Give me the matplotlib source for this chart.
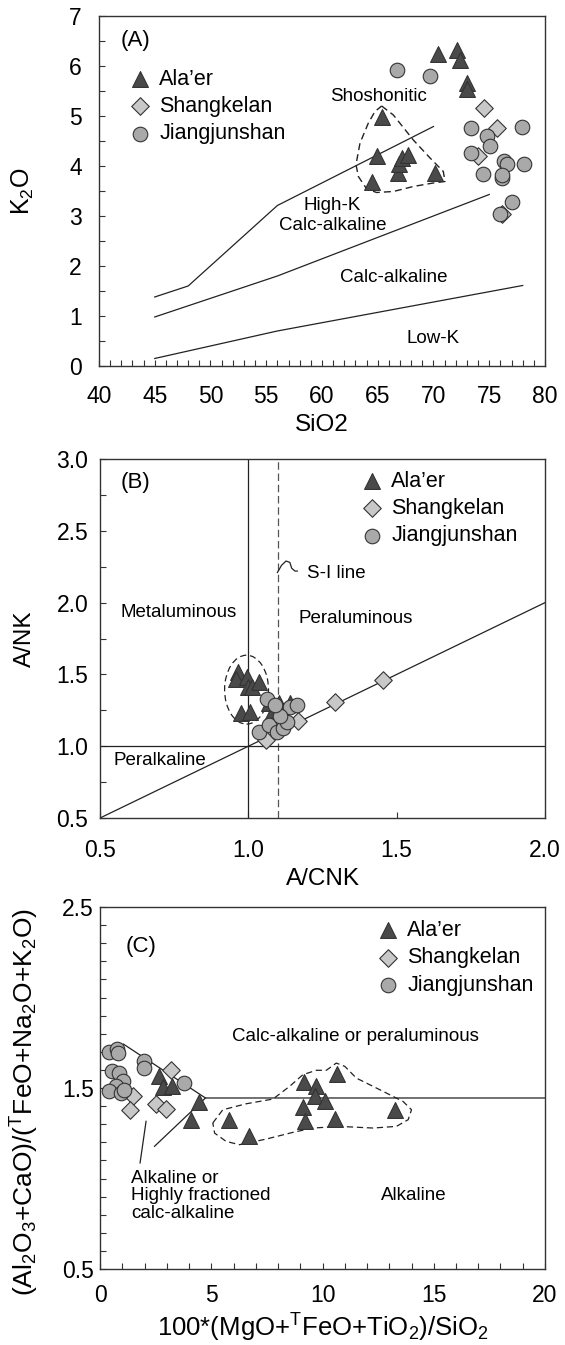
#   THREE STACKED GEOCHEMICAL DISCRIMINATION DIAGRAMS (A, B, C)
from matplotlib import pyplot as plt
from matplotlib.patches import Ellipse
from matplotlib.ticker import MultipleLocator, FixedLocator

plt.rcParams['font.family'] = ['Liberation Sans', 'DejaVu Sans']
plt.rcParams['mathtext.fontset'] = 'custom'
plt.rcParams['mathtext.rm'] = 'Liberation Sans'
plt.rcParams['mathtext.it'] = 'Liberation Sans'

#   PANEL A : SiO2 vs K2O
a_alaer_sio2 = [70.4, 72.1, 72.4, 73.0, 73.0, 65.4, 64.9, 64.5, 66.8, 66.9, 67.2, 67.7, 70.1]
a_alaer_k2o = [6.25, 6.33, 6.12, 5.66, 5.54, 4.98, 4.19, 3.67, 3.86, 4.03, 4.16, 4.22, 3.86]
a_shang_sio2 = [74.5, 75.7, 74.0, 76.1]
a_shang_k2o = [5.16, 4.76, 4.19, 3.03]
a_jiang_sio2 = [66.7, 69.7, 73.4, 74.8, 75.1, 73.4, 74.4, 76.3, 76.6, 76.1, 76.1, 77.9, 78.1, 77.0, 76.0]
a_jiang_k2o = [5.92, 5.81, 4.75, 4.60, 4.40, 4.25, 3.84, 4.10, 4.03, 3.75, 3.82, 4.77, 4.04, 3.27, 3.04]

#   SERIES BOUNDARIES
a_shosho_x = [45, 48, 56, 70]
a_shosho_y = [1.38, 1.60, 3.21, 4.79]
a_highk_x = [45, 56, 75]
a_highk_y = [0.98, 1.80, 3.43]
a_lowk_x = [45, 56, 78]
a_lowk_y = [0.15, 0.70, 1.61]

#   DASHED FIELD AROUND ALA'ER
a_env_x = [65.35, 66.4, 68.19, 69.69, 70.88, 71.03, 69.98, 68.19, 66.4, 64.9, 64.01, 63.26,
           63.05, 63.41, 64.16, 64.75, 65.35]
a_env_y = [5.2, 5.02, 4.52, 4.16, 3.89, 3.69, 3.66, 3.59, 3.49, 3.47, 3.54, 3.79,
           4.03, 4.46, 4.86, 5.09, 5.2]

#   PANEL B : A/CNK vs A/NK
b_alaer_acnk = [0.966, 0.958, 0.994, 0.998, 1.011, 1.037, 0.974, 1.006, 1.071, 1.103, 1.140, 1.079]
b_alaer_ank = [1.52, 1.47, 1.48, 1.41, 1.41, 1.45, 1.23, 1.24, 1.30, 1.30, 1.30, 1.23]
b_shang_acnk = [1.453, 1.292, 1.169, 1.060]
b_shang_ank = [1.464, 1.306, 1.179, 1.046]
b_jiang_acnk = [1.064, 1.036, 1.071, 1.096, 1.116, 1.131, 1.140, 1.165, 1.107, 1.090]
b_jiang_ank = [1.33, 1.10, 1.15, 1.10, 1.13, 1.17, 1.27, 1.29, 1.21, 1.29]

b_squiggle_x = [1.098, 1.112, 1.127, 1.140, 1.146, 1.157, 1.165]
b_squiggle_y = [2.21, 2.26, 2.29, 2.28, 2.24, 2.22, 2.22]

#   PANEL C
c_alaer_x = [2.64, 2.85, 3.24, 4.47, 4.10, 5.79, 6.69, 9.17, 9.12, 9.20, 9.69, 9.65, 10.10, 10.55, 10.65, 13.25]
c_alaer_y = [1.564, 1.506, 1.513, 1.421, 1.325, 1.325, 1.233, 1.531, 1.395, 1.316, 1.509, 1.454,
             1.426, 1.329, 1.579, 1.380]
c_shang_x = [3.19, 1.47, 1.36, 2.52, 2.97]
c_shang_y = [1.60, 1.454, 1.376, 1.413, 1.384]
c_jiang_x = [0.42, 0.77, 0.82, 1.96, 1.96, 0.52, 0.87, 1.02, 0.72, 0.42, 0.95, 1.06, 3.77]
c_jiang_y = [1.697, 1.715, 1.693, 1.647, 1.611, 1.592, 1.583, 1.537, 1.509, 1.481, 1.472, 1.487, 1.528]

c_bound_x = [1.05, 4.74, 20]
c_bound_y = [1.743, 1.445, 1.445]
c_lower_x = [4.74, 2.45]
c_lower_y = [1.445, 1.178]
c_pointer_x = [2.07, 1.80]
c_pointer_y = [1.316, 1.086]

c_env_x = [5.07, 5.52, 6.57, 7.77, 8.52, 9.12, 9.72, 10.17, 10.62, 11.0, 11.52, 12.57, 13.62, 14.0,
           13.85, 13.32, 12.27, 10.77, 9.57, 8.67, 7.47, 6.27, 5.67, 5.15, 5.07]
c_env_y = [1.307, 1.38, 1.413, 1.439, 1.509, 1.574, 1.598, 1.598, 1.638, 1.62, 1.555, 1.491, 1.426,
           1.38, 1.325, 1.288, 1.279, 1.288, 1.279, 1.255, 1.218, 1.187, 1.205, 1.251, 1.307]

names = ["Ala\u2019er", "Shangkelan", "Jiangjunshan"]

EDGE = '#333333'
STYLES = [
    dict(marker='^', s=130, facecolor='#4a4a4a', edgecolor=EDGE, linewidths=0.8),
    dict(marker='D', s=80, facecolor='#c8c8c8', edgecolor=EDGE, linewidths=0.8),
    dict(marker='o', s=110, facecolor='#a9a9a9', edgecolor=EDGE, linewidths=0.8),
]
LINE = dict(color='#222222', lw=0.9)
REGION_FS = 13.5
TICK_FS = 16.5

fig = plt.figure(figsize=(5.65, 13.45), dpi=100)


def style_axes(ax, pad_y, pad_x):
    for sp in ax.spines.values():
        sp.set_color('#333333')
        sp.set_linewidth(1.0)
    ax.tick_params(which='both', direction='in', color='#333333', labelsize=TICK_FS,
                   top=False, right=False)
    ax.tick_params(which='major', length=4, width=0.8)
    ax.tick_params(which='minor', length=4, width=0.8)
    ax.tick_params(axis='y', pad=pad_y)
    ax.tick_params(axis='x', pad=pad_x)


def legend(ax, x, y):
    ax.legend(loc='upper left', bbox_to_anchor=(x, y), frameon=False, fontsize=15.5,
              handlelength=0.9, handletextpad=0.45, labelspacing=0.3,
              borderpad=0, borderaxespad=0, scatterpoints=1)


#   PANEL A
ax = fig.add_axes([0.1752, 0.7279, 0.7894, 0.2602])
ax.plot(a_shosho_x, a_shosho_y, **LINE)
ax.plot(a_highk_x, a_highk_y, **LINE)
ax.plot(a_lowk_x, a_lowk_y, **LINE)
ax.plot(a_env_x, a_env_y, color='#222222', lw=1.0, ls=(0, (5, 3)))
for xs, ys, name, st in zip([a_alaer_sio2, a_shang_sio2, a_jiang_sio2],
                            [a_alaer_k2o, a_shang_k2o, a_jiang_k2o], names, STYLES):
    ax.scatter(xs, ys, label=name, zorder=3, **st)
ax.text(65.1, 5.38, 'Shoshonitic', ha='center', va='center', fontsize=REGION_FS)
ax.text(60.9, 3.21, 'High-K', ha='center', va='center', fontsize=REGION_FS)
ax.text(61.0, 2.81, 'Calc-alkaline', ha='center', va='center', fontsize=REGION_FS)
ax.text(66.4, 1.76, 'Calc-alkaline', ha='center', va='center', fontsize=REGION_FS)
ax.text(70.0, 0.55, 'Low-K', ha='center', va='center', fontsize=REGION_FS)
ax.text(43.3, 6.52, '(A)', ha='center', va='center', fontsize=16)
ax.set_xlim(40, 80)
ax.set_ylim(0, 7)
ax.xaxis.set_major_locator(MultipleLocator(5))
ax.xaxis.set_minor_locator(MultipleLocator(1))
ax.yaxis.set_major_locator(MultipleLocator(1))
ax.yaxis.set_minor_locator(MultipleLocator(0.5))
style_axes(ax, 12.5, 13.5)
ax.set_xlabel('SiO2', fontsize=17.5)
ax.set_ylabel(r'K$_\mathregular{2}$O', fontsize=18)
ax.xaxis.set_label_coords(0.5, -0.137)
ax.yaxis.set_label_coords(-0.142, 0.5)
legend(ax, 0.07, 0.85)

#   PANEL B
ax = fig.add_axes([0.177, 0.3918, 0.7876, 0.2669])
ax.axvline(1.0, **LINE)
ax.axvline(1.1, color='#555555', lw=0.9, ls=(0, (6, 3)))
ax.axhline(1.0, **LINE)
ax.plot([0.5, 2.0], [0.5, 2.0], **LINE)
ax.plot(b_squiggle_x, b_squiggle_y, **LINE)
ax.add_patch(Ellipse((0.994, 1.394), 0.148, 0.48, fill=False, edgecolor='#222222',
                     lw=0.9, ls=(0, (5, 3))))
for xs, ys, name, st in zip([b_alaer_acnk, b_shang_acnk, b_jiang_acnk],
                            [b_alaer_ank, b_shang_ank, b_jiang_ank], names, STYLES):
    ax.scatter(xs, ys, label=name, zorder=3, **st)
ax.text(1.197, 2.20, 'S-I line', ha='left', va='center', fontsize=REGION_FS)
ax.text(0.766, 1.93, 'Metaluminous', ha='center', va='center', fontsize=REGION_FS)
ax.text(1.363, 1.89, 'Peraluminous', ha='center', va='center', fontsize=REGION_FS)
ax.text(0.702, 0.90, 'Peralkaline', ha='center', va='center', fontsize=REGION_FS)
ax.text(0.62, 2.84, '(B)', ha='center', va='center', fontsize=16)
ax.set_xlim(0.5, 2.0)
ax.set_ylim(0.5, 3.0)
ax.xaxis.set_major_locator(MultipleLocator(0.5))
ax.yaxis.set_major_locator(MultipleLocator(0.5))
ax.yaxis.set_minor_locator(MultipleLocator(0.25))
ax.xaxis.set_major_formatter(plt.FormatStrFormatter('%.1f'))
ax.yaxis.set_major_formatter(plt.FormatStrFormatter('%.1f'))
style_axes(ax, 8.5, 15)
ax.set_xlabel('A/CNK', fontsize=17.5)
ax.set_ylabel('A/NK', fontsize=17.5)
ax.xaxis.set_label_coords(0.5, -0.139)
ax.yaxis.set_label_coords(-0.143, 0.5)
legend(ax, 0.589, 0.968)

#   PANEL C
ax = fig.add_axes([0.177, 0.0565, 0.7876, 0.2691])
ax.plot(c_bound_x, c_bound_y, **LINE)
ax.plot(c_lower_x, c_lower_y, **LINE)
ax.plot(c_pointer_x, c_pointer_y, **LINE)
ax.plot(c_env_x, c_env_y, color='#222222', lw=0.9, ls=(0, (5, 3)))
for xs, ys, name, st in zip([c_alaer_x, c_shang_x, c_jiang_x],
                            [c_alaer_y, c_shang_y, c_jiang_y], names, STYLES):
    ax.scatter(xs, ys, label=name, zorder=3, **st)
ax.text(11.49, 1.785, 'Calc-alkaline or peraluminous', ha='center', va='center', fontsize=REGION_FS)
ax.text(1.40, 0.905, 'Alkaline or\nHighly fractioned\ncalc-alkaline', ha='left', va='center',
        fontsize=REGION_FS, linespacing=1.05)
ax.text(14.12, 0.905, 'Alkaline', ha='center', va='center', fontsize=REGION_FS)
ax.text(1.85, 2.28, '(C)', ha='center', va='center', fontsize=16)
ax.set_xlim(0, 20)
ax.set_ylim(0.5, 2.5)
ax.xaxis.set_major_locator(MultipleLocator(5))
ax.xaxis.set_minor_locator(MultipleLocator(1))
ax.yaxis.set_major_locator(FixedLocator([0.5, 1.5, 2.5]))
ax.yaxis.set_minor_locator(MultipleLocator(0.1))
ax.yaxis.set_major_formatter(plt.FormatStrFormatter('%.1f'))
style_axes(ax, 4.5, 11)
ax.set_xlabel(r'100*(MgO+$^\mathregular{T}$FeO+TiO$_\mathregular{2}$)/SiO$_\mathregular{2}$',
              fontsize=18.5)
ax.set_ylabel(r'(Al$_\mathregular{2}$O$_\mathregular{3}$+CaO)/($^\mathregular{T}$FeO+'
              r'Na$_\mathregular{2}$O+K$_\mathregular{2}$O)', fontsize=19)
ax.xaxis.set_label_coords(0.5, -0.118)
ax.yaxis.set_label_coords(-0.132, 0.462)
legend(ax, 0.625, 0.965)

fig.savefig('out.png', dpi=100)
